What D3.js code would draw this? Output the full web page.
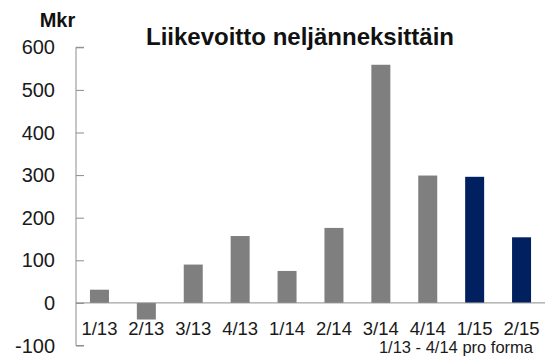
<!DOCTYPE html>
<html>
<head>
<meta charset="utf-8">
<script src="https://cdn.jsdelivr.net/npm/d3@7"></script>
<style>
  html, body { margin: 0; padding: 0; background: #fff; }
  svg { display: block; }
</style>
</head>
<body>
<svg id="chart" width="551" height="356"></svg>
<script>
// Operating profit per quarter, MEUR
const quarters = ["1/13", "2/13", "3/13", "4/13", "1/14", "2/14", "3/14", "4/14", "1/15", "2/15"];
const profit   = [31, -39, 90, 157, 75, 176, 559, 299, 296, 154];
const proForma = [true, true, true, true, true, true, true, true, false, false];
const yTicks   = [-100, 0, 100, 200, 300, 400, 500, 600];

const svg = d3.select("#chart");
const font = "'Liberation Sans', Arial, sans-serif";

const x = d3.scaleBand()
  .domain(quarters)
  .range([76, 545])
  .paddingInner(0.595)
  .paddingOuter(0.2975);

const y = d3.scaleLinear()
  .domain([-100, 600])
  .range([345.5, 47.3]);

// value axis with inward ticks
const yAxis = d3.axisRight(y).tickValues(yTicks).tickSize(8).tickFormat("");
const gy = svg.append("g").attr("transform", "translate(76,0)").call(yAxis);
gy.select(".domain").attr("stroke", "#8c8c8c").attr("d", `M8,${y(600)}H0V${y(-100)}H8`);
gy.selectAll(".tick line").attr("stroke", "#8c8c8c");

svg.append("g")
  .selectAll("text")
  .data(yTicks)
  .join("text")
  .attr("x", 55)
  .attr("y", d => y(d))
  .attr("dy", "0.35em")
  .attr("text-anchor", "end")
  .attr("font-family", font)
  .attr("font-size", 20)
  .attr("fill", "#1a1a1a")
  .text(d => d);

// bars
svg.append("g")
  .selectAll("rect")
  .data(quarters)
  .join("rect")
  .attr("x", d => x(d))
  .attr("width", x.bandwidth())
  .attr("y", (d, i) => y(Math.max(0, profit[i])))
  .attr("height", (d, i) => Math.abs(y(profit[i]) - y(0)))
  .attr("fill", (d, i) => proForma[i] ? "#7f7f7f" : "#002060");

// zero baseline
svg.append("line")
  .attr("x1", 76).attr("x2", 545)
  .attr("y1", y(0)).attr("y2", y(0))
  .attr("stroke", "#8c8c8c");

// category labels
svg.append("g")
  .selectAll("text")
  .data(quarters)
  .join("text")
  .attr("x", d => x(d) + x.bandwidth() / 2)
  .attr("y", 335)
  .attr("text-anchor", "middle")
  .attr("font-family", font)
  .attr("font-size", 18.5)
  .attr("fill", "#1a1a1a")
  .text(d => d);

// title, unit and footnote
svg.append("text")
  .attr("x", 300).attr("y", 45)
  .attr("text-anchor", "middle")
  .attr("font-family", font)
  .attr("font-weight", "bold")
  .attr("font-size", 24)
  .attr("fill", "#111")
  .text("Liikevoitto neljänneksittäin");

svg.append("text")
  .attr("x", 57.5).attr("y", 27)
  .attr("text-anchor", "middle")
  .attr("font-family", font)
  .attr("font-weight", "bold")
  .attr("font-size", 20)
  .attr("fill", "#111")
  .text("Mkr");

svg.append("text")
  .attr("x", 533).attr("y", 352.5)
  .attr("text-anchor", "end")
  .attr("font-family", font)
  .attr("font-size", 16.5)
  .attr("fill", "#1a1a1a")
  .text("1/13 - 4/14 pro forma");
</script>
</body>
</html>
